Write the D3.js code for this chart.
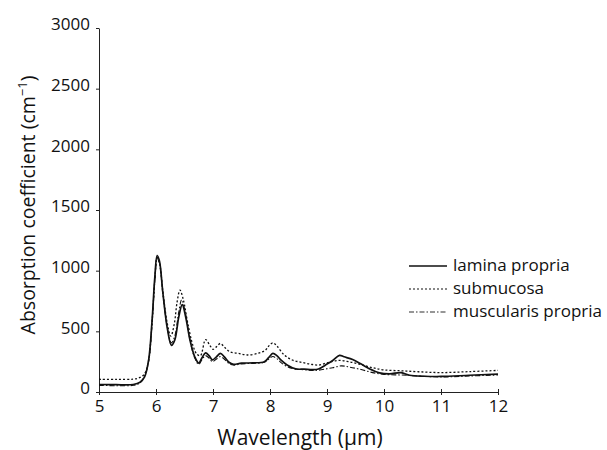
<!DOCTYPE html>
<html>
<head>
<meta charset="utf-8">
<script src="https://cdn.jsdelivr.net/npm/d3@7"></script>
<style>
  body { margin: 0; background: #fff; }
  svg text { font-family: "Open Sans", sans-serif; fill: #111; }
</style>
</head>
<body>
<div class="chart"></div>
<script>
// wavelength (um) / absorption coefficient (cm-1)
const lamina_x = [5, 5.3, 5.6, 5.72, 5.8, 5.87, 5.93, 5.98, 6.02, 6.06, 6.12, 6.2, 6.27, 6.33, 6.4, 6.46, 6.52, 6.6, 6.68, 6.75, 6.81, 6.87, 6.93, 6.99, 7.06, 7.13, 7.2, 7.28, 7.36, 7.5, 7.7, 7.9, 7.98, 8.05, 8.12, 8.2, 8.3, 8.45, 8.6, 8.75, 8.85, 9.0, 9.1, 9.22, 9.3, 9.45, 9.6, 9.75, 9.92, 10.1, 10.3, 10.45, 10.7, 11, 11.5, 12]
const lamina_y = [62, 60, 62, 80, 125, 260, 580, 950, 1125, 1080, 820, 520, 385, 430, 620, 720, 620, 420, 290, 238, 285, 322, 300, 265, 290, 318, 290, 245, 228, 238, 240, 250, 285, 318, 300, 260, 222, 190, 188, 184, 190, 230, 260, 302, 290, 268, 230, 190, 158, 150, 160, 138, 130, 128, 138, 148]

const submucosa_x = [5, 5.3, 5.6, 5.72, 5.8, 5.87, 5.93, 5.98, 6.02, 6.06, 6.12, 6.2, 6.26, 6.32, 6.37, 6.42, 6.48, 6.56, 6.65, 6.72, 6.78, 6.87, 6.95, 7.0, 7.06, 7.13, 7.2, 7.3, 7.45, 7.6, 7.8, 7.92, 7.98, 8.05, 8.12, 8.25, 8.4, 8.55, 8.7, 8.85, 9.0, 9.2, 9.4, 9.6, 9.8, 10.0, 10.3, 10.6, 11, 11.5, 12]
const submucosa_y = [105, 104, 106, 120, 150, 260, 570, 930, 1110, 1070, 830, 560, 460, 560, 740, 840, 760, 560, 380, 310, 300, 432, 380, 352, 372, 400, 370, 330, 318, 305, 320, 345, 380, 405, 380, 305, 262, 245, 230, 222, 240, 260, 248, 225, 200, 182, 175, 167, 160, 168, 178]

const muscularis_x = [5, 5.3, 5.6, 5.72, 5.8, 5.87, 5.93, 5.98, 6.02, 6.06, 6.12, 6.2, 6.27, 6.33, 6.4, 6.45, 6.52, 6.6, 6.68, 6.75, 6.81, 6.87, 6.93, 6.99, 7.06, 7.13, 7.2, 7.28, 7.36, 7.5, 7.7, 7.9, 7.98, 8.05, 8.12, 8.2, 8.3, 8.45, 8.6, 8.75, 8.85, 9.0, 9.1, 9.25, 9.4, 9.6, 9.8, 10.0, 10.3, 10.6, 11, 11.5, 12]
const muscularis_y = [55, 52, 55, 75, 135, 250, 560, 920, 1100, 1060, 810, 530, 405, 460, 660, 760, 640, 420, 280, 228, 270, 300, 280, 250, 272, 292, 270, 235, 222, 232, 236, 245, 272, 292, 275, 240, 210, 188, 184, 178, 180, 192, 200, 215, 205, 185, 160, 145, 140, 132, 124, 132, 140]

const series_names = ["lamina propria", "submucosa", "muscularis propria"]
const x_ticks = [5, 6, 7, 8, 9, 10, 11, 12]
const y_ticks = [0, 500, 1000, 1500, 2000, 2500, 3000]

const width = 607
const height = 450
const margin = { top: 28, right: 109, bottom: 58, left: 99 }

const svg = d3.select(".chart")
    .append("svg")
    .attr("width", width)
    .attr("height", height)

const x = d3.scaleLinear([5, 12], [margin.left, width - margin.right])
const y = d3.scaleLinear([0, 3000], [height - margin.bottom, margin.top])

const toPoints = (xs, ys) => xs.map((d, i) => ({ x: d, y: ys[i] }))

const series = [
    { name: series_names[0], pts: toPoints(lamina_x, lamina_y), dash: null, w: 1.7 },
    { name: series_names[1], pts: toPoints(submucosa_x, submucosa_y), dash: "2,2", w: 1.3 },
    { name: series_names[2], pts: toPoints(muscularis_x, muscularis_y), dash: "5,2,1.5,2", w: 1.1 }
]

const line = d3.line()
    .x(d => x(d.x))
    .y(d => y(d.y))
    .curve(d3.curveCatmullRom.alpha(0.5))

// axes
const xAxis = svg.append("g")
    .attr("transform", `translate(0,${y(0)})`)
    .call(d3.axisBottom(x).tickValues(x_ticks).tickFormat(d3.format("d")).tickSize(3).tickSizeOuter(0))
xAxis.selectAll(".tick line").attr("y1", -3).attr("stroke", "#222")
xAxis.select(".domain").attr("stroke", "#222").attr("stroke-width", 1.2)
xAxis.selectAll("text").attr("font-size", 17).attr("dy", "0.85em")

const yAxis = svg.append("g")
    .attr("transform", `translate(${x(5)},0)`)
    .call(d3.axisLeft(y).tickValues(y_ticks).tickFormat(d3.format("d")).tickSize(3).tickSizeOuter(0))
yAxis.select(".domain").attr("stroke", "#222").attr("stroke-width", 1)
yAxis.selectAll(".tick line").attr("stroke", "#222")
yAxis.selectAll("text").attr("font-size", 17).attr("x", -9).attr("dy", "0.1em")

// lines
svg.append("g")
    .selectAll("path")
    .data(series.slice().reverse())
    .join("path")
    .attr("d", d => line(d.pts))
    .attr("fill", "none")
    .attr("stroke", "#111")
    .attr("stroke-width", d => d.w)
    .attr("stroke-dasharray", d => d.dash)

// legend
const legend = svg.append("g")
    .attr("transform", "translate(409,266)")

const item = legend.selectAll("g")
    .data(series)
    .join("g")
    .attr("transform", (d, i) => `translate(0,${i * 23})`)

item.append("line")
    .attr("x1", 0).attr("x2", 38)
    .attr("stroke", "#111")
    .attr("stroke-width", d => d.w * 0.8)
    .attr("stroke-dasharray", d => d.dash)

item.append("text")
    .attr("x", 44)
    .attr("dy", "0.32em")
    .attr("font-size", 17)
    .text(d => d.name)

// axis titles
svg.append("text")
    .attr("x", 300)
    .attr("y", 445)
    .attr("text-anchor", "middle")
    .attr("font-size", 21)
    .text("Wavelength (μm)")

const yTitle = svg.append("text")
    .attr("transform", "translate(35,205) rotate(-90)")
    .attr("text-anchor", "middle")
    .attr("font-size", 19.5)
yTitle.append("tspan").text("Absorption coefficient (cm")
yTitle.append("tspan").attr("font-size", 13).attr("dy", -8).text("−1")
yTitle.append("tspan").attr("dy", 8).text(")")
</script>
</body>
</html>
